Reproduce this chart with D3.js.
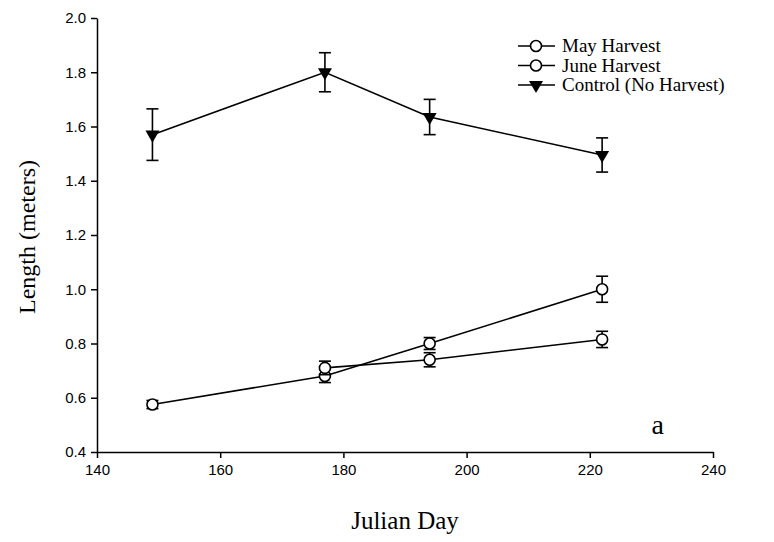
<!DOCTYPE html>
<html>
<head>
<meta charset="utf-8">
<script src="https://cdn.jsdelivr.net/npm/d3@7"></script>
<style>
  body { margin: 0; background: #fff; }
  svg { display: block; }
</style>
</head>
<body>
<div id="chart"></div>
<script>
// values
var mayDays = [149, 177, 194, 222];
var mayLen = [0.575, 0.68, 0.80, 1.00];
var mayErr = [0.015, 0.024, 0.022, 0.048];

var juneDays = [177, 194, 222];
var juneLen = [0.71, 0.74, 0.815];
var juneErr = [0.025, 0.026, 0.03];

var ctrlDays = [149, 177, 194, 222];
var ctrlLen = [1.57, 1.80, 1.635, 1.495];
var ctrlErr = [0.095, 0.072, 0.065, 0.063];

var xTicks = [140, 160, 180, 200, 220, 240];
var yTicks = [0.4, 0.6, 0.8, 1.0, 1.2, 1.4, 1.6, 1.8, 2.0];
var legendNames = ["May Harvest", "June Harvest", "Control (No Harvest)"];

var width = 774, height = 542;
var margin = {top: 18, right: 61, bottom: 90, left: 97};
var w = width - margin.left - margin.right,
    h = height - margin.top - margin.bottom;

var svg = d3.select("#chart")
  .append("svg")
    .attr("width", width)
    .attr("height", height)
  .append("g")
    .attr("transform", "translate(" + margin.left + "," + margin.top + ")");

var x = d3.scaleLinear().domain([140, 240]).range([0, w]);
var y = d3.scaleLinear().domain([0.4, 2.0]).range([h, 0]);

// axes
var xAxis = svg.append("g")
  .attr("transform", "translate(0," + h + ")")
  .call(d3.axisBottom(x).tickValues(xTicks).tickSize(6).tickSizeOuter(0).tickPadding(6));
var yAxis = svg.append("g")
  .call(d3.axisLeft(y).tickValues(yTicks).tickSize(6).tickSizeOuter(0).tickPadding(5)
    .tickFormat(d3.format(".1f")));

[xAxis, yAxis].forEach(function(a) {
  a.selectAll("path, line").attr("stroke", "#000").attr("stroke-width", 1.5);
  a.selectAll("text")
    .attr("fill", "#000")
    .style("font-family", "'Liberation Sans', Arial, sans-serif")
    .style("font-size", "15px");
});

// axis titles
svg.append("text")
  .attr("x", w / 2)
  .attr("y", h + 77)
  .attr("text-anchor", "middle")
  .style("font-family", "'Liberation Serif', 'Times New Roman', serif")
  .style("font-size", "25px")
  .text("Julian Day");

svg.append("text")
  .attr("transform", "translate(-62," + (h / 2 + 2) + ") rotate(-90)")
  .attr("text-anchor", "middle")
  .style("font-family", "'Liberation Serif', 'Times New Roman', serif")
  .style("font-size", "24px")
  .text("Length (meters)");

svg.append("text")
  .attr("x", x(230))
  .attr("y", y(0.465))
  .style("font-family", "'Liberation Serif', 'Times New Roman', serif")
  .style("font-size", "28px")
  .text("a");

function zip(days, len, err) {
  return days.map(function(d, i) { return {x: d, y: len[i], e: err[i]}; });
}

var series = [
  {name: legendNames[0], data: zip(mayDays, mayLen, mayErr), marker: "circle"},
  {name: legendNames[1], data: zip(juneDays, juneLen, juneErr), marker: "circle"},
  {name: legendNames[2], data: zip(ctrlDays, ctrlLen, ctrlErr), marker: "triangle"}
];

var line = d3.line()
  .x(function(d) { return x(d.x); })
  .y(function(d) { return y(d.y); });

var triangle = d3.symbol().type(d3.symbolTriangle).size(85);

function drawMarker(g, type) {
  if (type == "circle") {
    g.append("circle").attr("r", 5.5)
      .attr("fill", "#fff").attr("stroke", "#000").attr("stroke-width", 1.6);
  } else {
    g.append("path").attr("d", triangle).attr("transform", "rotate(180)")
      .attr("fill", "#000");
  }
}

series.forEach(function(s) {
  var g = svg.append("g");
  // error bars
  var eb = g.selectAll(".eb").data(s.data).enter().append("g");
  eb.append("line")
    .attr("x1", function(d) { return x(d.x); })
    .attr("x2", function(d) { return x(d.x); })
    .attr("y1", function(d) { return y(d.y - d.e); })
    .attr("y2", function(d) { return y(d.y + d.e); })
    .attr("stroke", "#000").attr("stroke-width", 1.6);
  [-1, 1].forEach(function(sg) {
    eb.append("line")
      .attr("x1", function(d) { return x(d.x) - 6; })
      .attr("x2", function(d) { return x(d.x) + 6; })
      .attr("y1", function(d) { return y(d.y + sg * d.e); })
      .attr("y2", function(d) { return y(d.y + sg * d.e); })
      .attr("stroke", "#000").attr("stroke-width", 1.6);
  });
  g.append("path")
    .datum(s.data)
    .attr("d", line)
    .attr("fill", "none")
    .attr("stroke", "#000")
    .attr("stroke-width", 1.6);
  s.data.forEach(function(d) {
    var m = g.append("g").attr("transform", "translate(" + x(d.x) + "," + y(d.y) + ")");
    drawMarker(m, s.marker);
  });
});

// legend
var legend = svg.append("g").attr("transform", "translate(421,28)");
series.forEach(function(s, i) {
  var row = legend.append("g").attr("transform", "translate(0," + (i * 19.5) + ")");
  row.append("line").attr("x1", 0).attr("x2", 37).attr("y1", 0).attr("y2", 0)
    .attr("stroke", "#000").attr("stroke-width", 1.6);
  var m = row.append("g").attr("transform", "translate(18,0)");
  drawMarker(m, s.marker);
  row.append("text")
    .attr("x", 44)
    .attr("y", 6)
    .style("font-family", "'Liberation Serif', 'Times New Roman', serif")
    .style("font-size", "19px")
    .text(s.name);
});
</script>
</body>
</html>
